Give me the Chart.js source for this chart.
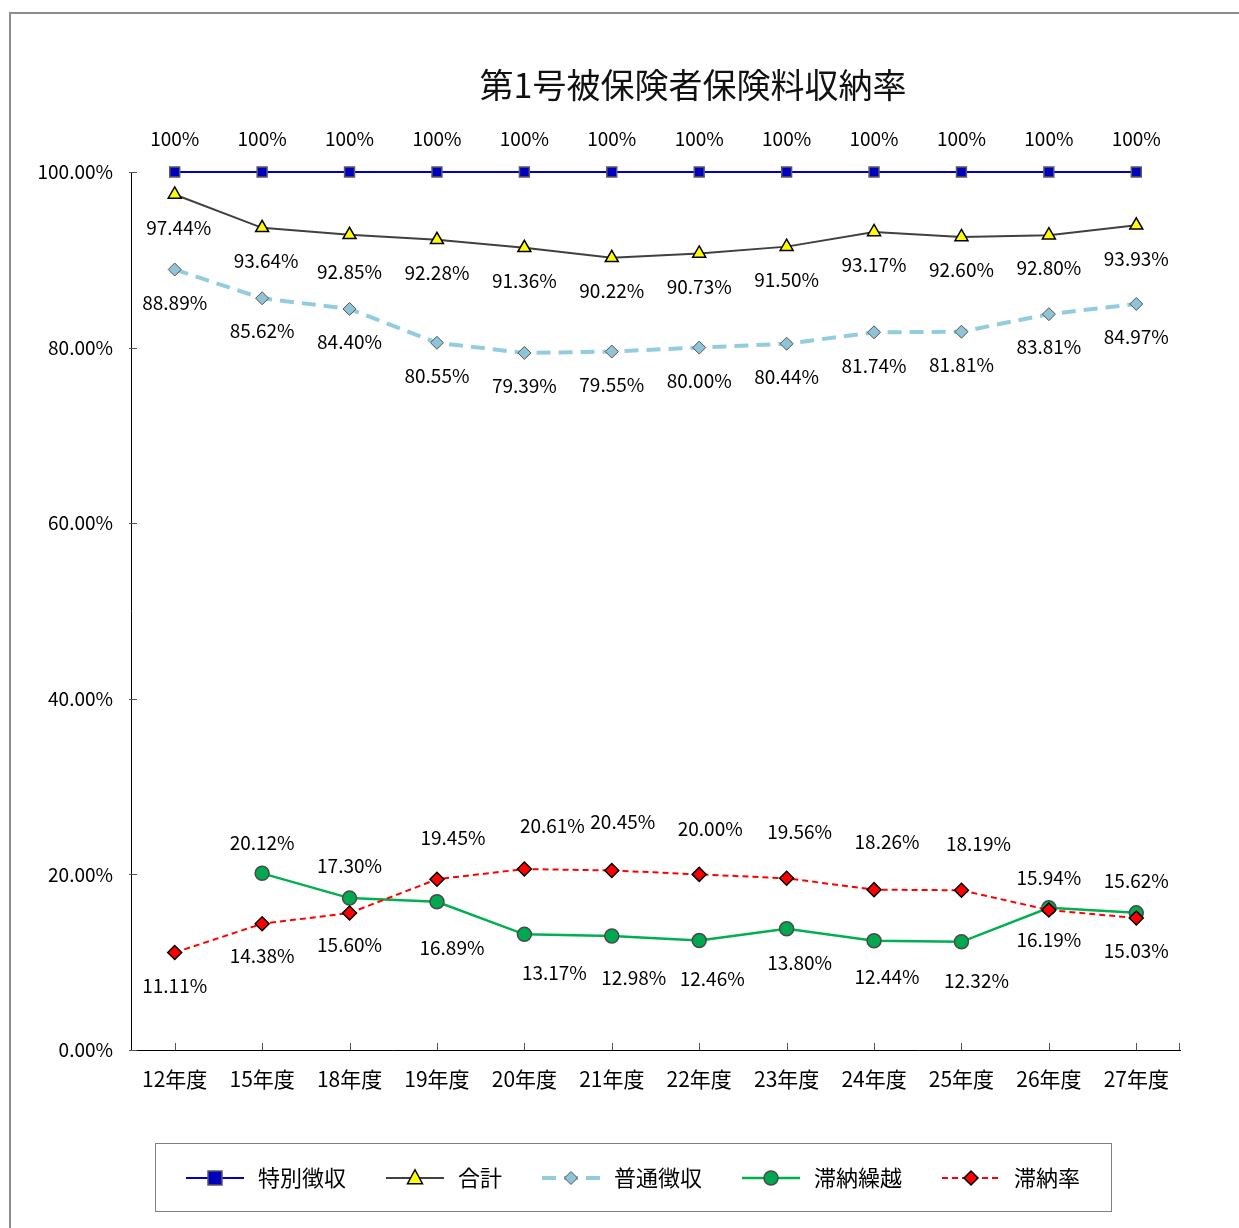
<!DOCTYPE html>
<html>
<head>
<meta charset="utf-8">
<script src="https://cdn.jsdelivr.net/npm/chart.js@4/dist/chart.umd.min.js"></script>
<style>
  html, body { margin: 0; padding: 0; background: #fff; overflow: hidden; }
  #wrap { position: relative; width: 1239px; height: 1228px; }
  #frame { position: absolute; left: 9px; top: 12px; width: 1500px; height: 1500px; border: 2px solid #8c8c8c; }
  #chart { position: absolute; left: 0; top: 0; }
</style>
</head>
<body>
<div id="wrap">
  <div id="frame"></div>
  <canvas id="chart" width="1239" height="1228"></canvas>
</div>
<script>
const chartTitle = '第1号被保険者保険料収納率';
const years = ['12年度', '15年度', '18年度', '19年度', '20年度', '21年度', '22年度', '23年度', '24年度', '25年度', '26年度', '27年度'];
const seriesNames = ['特別徴収', '合計', '普通徴収', '滞納繰越', '滞納率'];

const tokubetsu = [100, 100, 100, 100, 100, 100, 100, 100, 100, 100, 100, 100];
const goukei   = [97.44, 93.64, 92.85, 92.28, 91.36, 90.22, 90.73, 91.50, 93.17, 92.60, 92.80, 93.93];
const futsuu   = [88.89, 85.62, 84.40, 80.55, 79.39, 79.55, 80.00, 80.44, 81.74, 81.81, 83.81, 84.97];
const kurikoshi = [null, 20.12, 17.30, 16.89, 13.17, 12.98, 12.46, 13.80, 12.44, 12.32, 16.19, 15.62];
const tainouRate = [11.11, 14.38, 15.60, 19.45, 20.61, 20.45, 20.00, 19.56, 18.26, 18.19, 15.94, 15.03];

const yTicks = [0, 20, 40, 60, 80, 100];

// label placement (pixel offsets from each point), styling only
const labelOffsets = [
    years.map(() => [0, -33]),
    years.map((y, i) => [i < 2 ? 4 : 0, i === 2 ? 37 : 33]),
    years.map(() => [0, 33]),
    [[0, 0], [0, -31], [0, -32], [15, 46], [30, 38], [22, 42], [13, 38], [13, 34], [13, 36], [15, 39], [0, 32], [0, -32]],
    [[0, 33], [0, 32], [0, 32], [16, -41], [28, -43], [11, -49], [11, -46], [13, -46], [13, -48], [17, -47], [0, -32], [0, 33]]
];

const FONT = '"Noto Sans CJK JP", "Noto Sans", sans-serif';

function fmt(v) {
    return v === 100 ? '100%' : v.toFixed(2) + '%';
}

function drawMarker(ctx, style, x, y, r, fill, stroke, bw) {
    ctx.save();
    ctx.setLineDash([]);
    ctx.fillStyle = fill;
    ctx.strokeStyle = stroke;
    ctx.lineWidth = bw;
    ctx.beginPath();
    if (style === 'rect') {
        ctx.rect(x - r, y - r, r * 2, r * 2);
    } else if (style === 'triangle') {
        ctx.moveTo(x, y - r * 1.1);
        ctx.lineTo(x + r, y + r * 0.75);
        ctx.lineTo(x - r, y + r * 0.75);
        ctx.closePath();
    } else if (style === 'rectRot') {
        ctx.moveTo(x, y - r);
        ctx.lineTo(x + r, y);
        ctx.lineTo(x, y + r);
        ctx.lineTo(x - r, y);
        ctx.closePath();
    } else {
        ctx.arc(x, y, r, 0, Math.PI * 2);
    }
    ctx.fill();
    ctx.stroke();
    ctx.restore();
}

const decorPlugin = {
    id: 'decor',
    afterDraw(chart) {
        const ctx = chart.ctx;
        const area = chart.chartArea;
        const xs = chart.scales.x;
        const ys = chart.scales.y;
        ctx.save();

        // title
        ctx.fillStyle = '#111';
        ctx.font = '34px ' + FONT;
        ctx.textAlign = 'center';
        ctx.textBaseline = 'middle';
        ctx.fillText(chartTitle, 693, 85);

        // inward ticks
        ctx.strokeStyle = '#555';
        ctx.lineWidth = 1;
        ctx.beginPath();
        years.forEach((y, i) => {
            const px = Math.round(xs.getPixelForValue(i)) + 0.5;
            ctx.moveTo(px, area.bottom);
            ctx.lineTo(px, area.bottom - 7);
        });
        ctx.moveTo(area.right - 0.5, area.bottom);
        ctx.lineTo(area.right - 0.5, area.bottom - 7);
        yTicks.forEach(v => {
            const py = Math.round(ys.getPixelForValue(v)) + 0.5;
            ctx.moveTo(area.left - 2, py);
            ctx.lineTo(area.left + 6, py);
        });
        ctx.stroke();

        // data labels
        ctx.fillStyle = '#000';
        ctx.font = '19px ' + FONT;
        ctx.textAlign = 'center';
        ctx.textBaseline = 'middle';
        chart.data.datasets.forEach((ds, di) => {
            const meta = chart.getDatasetMeta(di);
            ds.data.forEach((v, i) => {
                if (v === null) return;
                const pt = meta.data[i];
                const off = labelOffsets[di][i];
                ctx.fillText(fmt(v), pt.x + off[0], pt.y + off[1]);
            });
        });

        // legend
        const boxL = 155, boxT = 1143, boxR = 1111, boxB = 1211;
        ctx.strokeStyle = '#808080';
        ctx.lineWidth = 1;
        ctx.strokeRect(boxL + 0.5, boxT + 0.5, boxR - boxL, boxB - boxT);
        ctx.font = '22px ' + FONT;
        ctx.textAlign = 'left';
        const sampleW = 58, gap = 14, spacing = 40;
        let total = 0;
        chart.data.datasets.forEach(ds => {
            total += sampleW + gap + ctx.measureText(ds.label).width;
        });
        total += spacing * (chart.data.datasets.length - 1);
        let x = (boxL + boxR) / 2 - total / 2;
        const cy = (boxT + boxB) / 2 + 1;
        chart.data.datasets.forEach(ds => {
            ctx.save();
            ctx.strokeStyle = ds.borderColor;
            ctx.lineWidth = ds.borderWidth;
            ctx.setLineDash(ds.borderDash || []);
            ctx.beginPath();
            ctx.moveTo(x, cy);
            ctx.lineTo(x + sampleW, cy);
            ctx.stroke();
            ctx.restore();
            drawMarker(ctx, ds.pointStyle, x + sampleW / 2, cy, ds.pointRadius, ds.pointBackgroundColor, ds.pointBorderColor, ds.pointBorderWidth);
            x += sampleW + gap;
            ctx.fillStyle = '#000';
            ctx.fillText(ds.label, x, cy);
            x += ctx.measureText(ds.label).width + spacing;
        });
        ctx.restore();
    }
};

const seriesData = [tokubetsu, goukei, futsuu, kurikoshi, tainouRate];
const seriesStyles = [
    { borderColor: '#0000C8', borderWidth: 2, pointStyle: 'rect', pointRadius: 7, pointBackgroundColor: '#0000C0', pointBorderColor: '#5a5a5a', pointBorderWidth: 1.5 },
    { borderColor: '#404040', borderWidth: 2, pointStyle: 'triangle', pointRadius: 7.5, pointBackgroundColor: '#FFFF00', pointBorderColor: '#000', pointBorderWidth: 1.5 },
    { borderColor: '#93CDDD', borderWidth: 4, borderDash: [14, 8], pointStyle: 'rectRot', pointRadius: 6.5, pointBackgroundColor: '#8FC3D6', pointBorderColor: '#555', pointBorderWidth: 1 },
    { borderColor: '#00B050', borderWidth: 2.5, pointStyle: 'circle', pointRadius: 7, pointBackgroundColor: '#00A84F', pointBorderColor: '#4a4a4a', pointBorderWidth: 1.5 },
    { borderColor: '#FF0000', borderWidth: 2, borderDash: [6, 4], pointStyle: 'rectRot', pointRadius: 7, pointBackgroundColor: '#FF0000', pointBorderColor: '#000', pointBorderWidth: 1.5 }
];

const ctxEl = document.getElementById('chart');
const chart = new Chart(ctxEl, {
    type: 'line',
    data: {
        labels: years,
        datasets: seriesNames.map((name, i) => Object.assign({
            label: name,
            data: seriesData[i],
            fill: false,
            tension: 0,
            clip: false,
            spanGaps: false,
            order: seriesNames.length - i
        }, seriesStyles[i]))
    },
    options: {
        responsive: false,
        animation: false,
        layout: { padding: { top: 172, left: 0, right: 59, bottom: 118 } },
        scales: {
            x: {
                offset: true,
                grid: { display: false, drawTicks: false },
                border: { display: true, color: '#000', width: 1 },
                ticks: {
                    color: '#000',
                    font: { family: FONT, size: 21 },
                    padding: 16,
                    maxRotation: 0
                },
                afterFit(scale) { scale.height = 60; }
            },
            y: {
                min: 0,
                max: 100,
                afterBuildTicks(scale) { scale.ticks = yTicks.map(v => ({ value: v })); },
                grid: { display: false, drawTicks: false },
                border: { display: true, color: '#000', width: 1 },
                ticks: {
                    color: '#000',
                    font: { family: FONT, size: 19 },
                    padding: 18,
                    callback: function(value) {
                        return value.toFixed(2) + '%';
                    }
                },
                afterFit(scale) { scale.width = 131; }
            }
        },
        plugins: {
            legend: { display: false },
            title: { display: false },
            tooltip: { enabled: false }
        }
    },
    plugins: [decorPlugin]
});
</script>
</body>
</html>
